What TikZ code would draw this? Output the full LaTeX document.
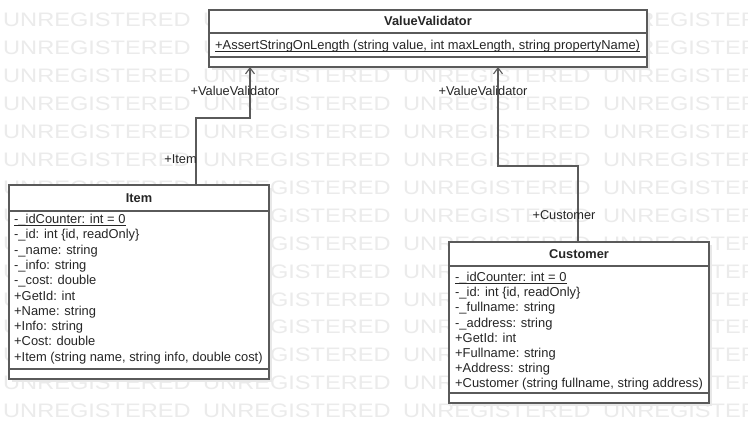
\documentclass[tikz,border=0pt]{standalone}
\usepackage{fontspec}
\setmainfont{Liberation Sans}
\usepackage{graphicx}
\usetikzlibrary{arrows.meta}
\definecolor{ln}{HTML}{5A5A5A}
\definecolor{wm}{HTML}{EBEBEB}
\definecolor{shd}{HTML}{E8E8E8}
\tikzset{
  box/.style={draw=ln, line width=1.2pt, fill=white, inner sep=0pt, outer sep=0pt, anchor=north west},
  divline/.style={draw=ln, line width=1.2pt},
  row/.style={anchor=base west, inner sep=0pt, font=\fontsize{12.9}{14}\selectfont, text=black!85},
  title/.style={anchor=base, inner sep=0pt, font=\fontsize{12.8}{14}\selectfont\bfseries, text=black!85},
  lbl/.style={anchor=base, inner sep=0pt, font=\fontsize{12.8}{14}\selectfont, text=black!85},
  ul/.style={draw=black!85, line width=0.8pt},
  assoc/.style={draw=ln, line width=1.2pt, -{Straight Barb[length=6pt,width=9pt,line width=1.1pt]}},
  wmk/.style={anchor=base west, inner sep=0pt, text=wm, font=\fontsize{19.5}{20}\selectfont},
}
\begin{document}
\begin{tikzpicture}[x=1pt,y=-1pt]
\useasboundingbox[fill=white] (0,0) rectangle (748,444);
% watermark
\foreach \r in {0,...,14}{
  \foreach \c in {0,...,3}{
    \node[wmk] (wm-\r-\c) at ({3+200*\c},{27+27.9*\r}) {\scalebox{1.21}[1]{UNREGISTERED}};
  }
}
% shadows
\fill[shd] (212,13) rectangle (650,70);
\fill[shd] (12,188) rectangle (272,382);
\fill[shd] (452,245) rectangle (712,406);
% ValueValidator
\node[box, minimum width=438pt, minimum height=57pt] (vv) at (209,10) {};
\draw[divline] (vv.west |- 0,33) -- (vv.east |- 0,33);
\draw[divline] (vv.west |- 0,57) -- (vv.east |- 0,57);
\node[title] (vvt) at (428,26) {ValueValidator};
\node[row] (vvm) at (215,49.5) {+AssertStringOnLength (string value, int maxLength, string propertyName)};
\draw[ul] ([yshift=-2pt]vvm.base west) -- ([yshift=-2pt]vvm.base east);
% Item
\node[box, minimum width=260pt, minimum height=194pt] (item) at (9,185) {};
\draw[divline] (item.west |- 0,211) -- (item.east |- 0,211);
\draw[divline] (item.west |- 0,369) -- (item.east |- 0,369);
\node[title] (itemt) at (139,202.5) {Item};
\foreach \t [count=\k from 0] in {{-\_idCounter: int = 0},{-\_id: int \{id, readOnly\}},{-\_name: string},{-\_info: string},{-\_cost: double},{+GetId: int},{+Name: string},{+Info: string},{+Cost: double},{+Item (string name, string info, double cost)}}{
  \node[row] (it-\k) at (14,{223.5+15.3*\k}) {\t};
}
\draw[ul] ([yshift=-2pt]it-0.base west) -- ([yshift=-2pt]it-0.base east);
% Customer
\node[box, minimum width=260pt, minimum height=161pt] (cust) at (449,242) {};
\draw[divline] (cust.west |- 0,266) -- (cust.east |- 0,266);
\draw[divline] (cust.west |- 0,393) -- (cust.east |- 0,393);
\node[title] (custt) at (579,258.5) {Customer};
\foreach \t [count=\k from 0] in {{-\_idCounter: int = 0},{-\_id: int \{id, readOnly\}},{-\_fullname: string},{-\_address: string},{+GetId: int},{+Fullname: string},{+Address: string},{+Customer (string fullname, string address)}}{
  \node[row] (cu-\k) at (455,{281.5+15.2*\k}) {\t};
}
\draw[ul] ([yshift=-2pt]cu-0.base west) -- ([yshift=-2pt]cu-0.base east);
% connectors
\draw[assoc] ([xshift=57pt]item.north) -- ++(0,-67) -| ([xshift=-178pt]vv.south);
\draw[assoc] ([xshift=-1pt]cust.north) -- ++(0,-76) -| ([xshift=70pt]vv.south);
% labels
\node[lbl] (l1) at (235,95.5) {+ValueValidator};
\node[lbl] (l2) at (180.5,163.5) {+Item};
\node[lbl] (l3) at (483,95.5) {+ValueValidator};
\node[lbl] (l4) at (564,219.5) {+Customer};
\end{tikzpicture}
\end{document}
